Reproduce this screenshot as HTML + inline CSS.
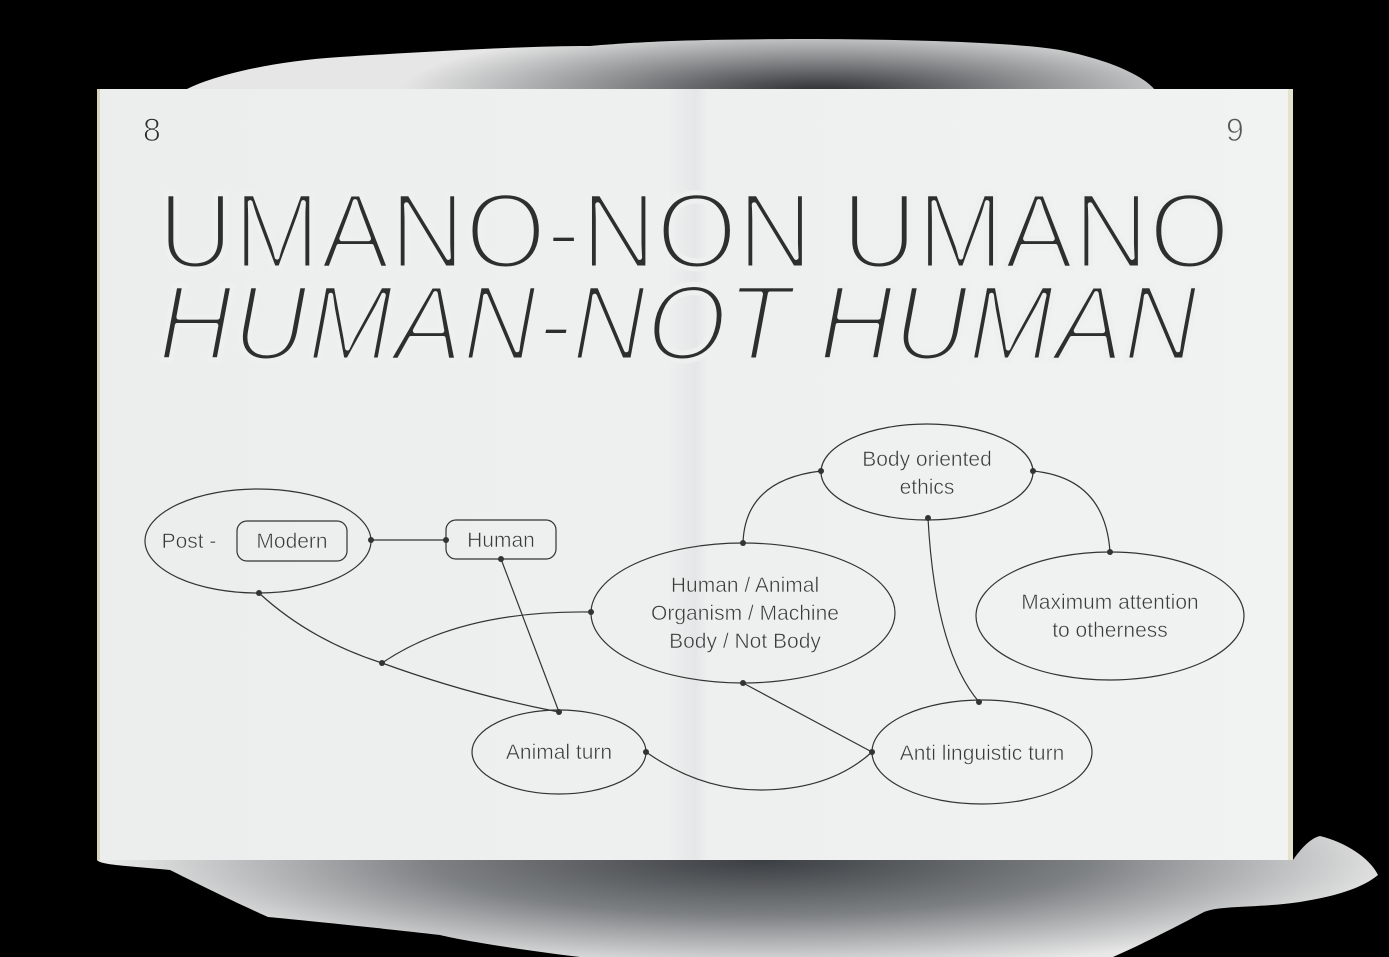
<!DOCTYPE html>
<html><head><meta charset="utf-8"><style>
html,body{margin:0;padding:0;background:#000;}
svg{display:block}
</style></head><body>
<svg width="1389" height="957" viewBox="0 0 1389 957" xmlns="http://www.w3.org/2000/svg">
<defs>
<radialGradient id="ts" cx="820" cy="92" r="420" gradientUnits="userSpaceOnUse" gradientTransform="translate(820 92) scale(1 0.16) translate(-820 -92)">
<stop offset="0" stop-color="#2a2d30"/><stop offset="0.5" stop-color="#8a8c8e"/><stop offset="1" stop-color="#e6e6e6"/>
</radialGradient>
<radialGradient id="bs" cx="760" cy="860" r="650" gradientUnits="userSpaceOnUse" gradientTransform="translate(760 860) scale(1 0.17) translate(-760 -860)">
<stop offset="0" stop-color="#3a3d41"/><stop offset="0.5" stop-color="#7d8083"/><stop offset="1" stop-color="#e8e8e8"/>
</radialGradient>
<linearGradient id="lp" x1="97" x2="697" y1="0" y2="0" gradientUnits="userSpaceOnUse">
<stop offset="0" stop-color="#eceeee"/><stop offset="0.95" stop-color="#eef0f0"/><stop offset="1" stop-color="#e4e6e7"/>
</linearGradient>
<linearGradient id="rp" x1="697" x2="1290" y1="0" y2="0" gradientUnits="userSpaceOnUse">
<stop offset="0" stop-color="#e6e8e9"/><stop offset="0.02" stop-color="#eef0f0"/><stop offset="1" stop-color="#f1f2f2"/>
</linearGradient>
</defs>
<rect width="1389" height="957" fill="#000"/>
<path d="M182 92 C200 80 260 62 340 57 C420 52 520 46 590 46 C640 42 680 39 820 39 C960 40 1030 45 1060 50 C1100 58 1140 72 1155 90 Z" fill="url(#ts)"/>
<path d="M97 860 L1293 860 C1300 850 1310 838 1320 836 C1345 842 1370 858 1378 875 C1360 890 1330 897 1300 902 C1260 908 1220 905 1204 912 C1170 930 1140 945 1113 957 L580 957 C520 950 460 940 440 935 C380 928 300 920 268 917 C230 900 190 880 170 870 C130 866 100 865 97 860 Z" fill="url(#bs)"/>
<rect x="97" y="89" width="600" height="771" fill="url(#lp)"/>
<rect x="697" y="89" width="593" height="771" fill="url(#rp)"/>
<rect x="97" y="89" width="3" height="771" fill="#d8d3bd"/>
<rect x="1288" y="89" width="5" height="771" fill="#e4e1cc"/>
<g font-family="Liberation Sans, sans-serif" fill="#2e2e2e" stroke-linejoin="round">
<text x="143" y="141" font-size="32" stroke="#eef0f0" stroke-width="1">8</text>
<text x="1226" y="141" font-size="32" fill="#555" stroke="#eef0f0" stroke-width="1">9</text>
<text x="158" y="268" font-size="108" textLength="1072" lengthAdjust="spacingAndGlyphs" stroke="#eef0f0" stroke-width="5">UMANO-NON UMANO</text>
<text x="158" y="360" font-size="108" font-style="italic" textLength="1040" lengthAdjust="spacingAndGlyphs" stroke="#eef0f0" stroke-width="5">HUMAN-NOT HUMAN</text>
</g>
<g fill="none" stroke="#333" stroke-width="1.2">
<ellipse cx="258" cy="541" rx="113" ry="52"/>
<rect x="237" y="521" width="110" height="40" rx="10"/>
<rect x="446" y="520" width="110" height="39" rx="10"/>
<ellipse cx="743" cy="613" rx="152" ry="70"/>
<ellipse cx="927" cy="472" rx="106" ry="48"/>
<ellipse cx="1110" cy="616" rx="134" ry="64"/>
<ellipse cx="559" cy="752" rx="87" ry="42"/>
<ellipse cx="982" cy="752" rx="110" ry="52"/>
<path d="M371 540 L446 540"/>
<path d="M501 559 L559 712"/>
<path d="M259 593 Q310 640 382 663 Q470 695 559 712"/>
<path d="M382 663 Q460 610 591 612"/>
<path d="M743 683 L872 752"/>
<path d="M646 752 Q700 790 760 790 Q830 790 872 752"/>
<path d="M743 543 Q745 480 821 471"/>
<path d="M1033 471 Q1105 478 1110 552"/>
<path d="M928 518 Q935 650 979 702"/>
</g>
<g fill="#333">
<circle cx="371" cy="540" r="3"/><circle cx="446" cy="540" r="3"/>
<circle cx="501" cy="559" r="3"/><circle cx="559" cy="712" r="3"/>
<circle cx="259" cy="593" r="3"/><circle cx="382" cy="663" r="3"/>
<circle cx="591" cy="612" r="3"/><circle cx="743" cy="683" r="3"/>
<circle cx="872" cy="752" r="3"/><circle cx="646" cy="752" r="3"/>
<circle cx="743" cy="543" r="3"/><circle cx="821" cy="471" r="3"/>
<circle cx="1033" cy="471" r="3"/><circle cx="1110" cy="552" r="3"/>
<circle cx="928" cy="518" r="3"/><circle cx="979" cy="702" r="3"/>
</g>
<g font-family="Liberation Sans, sans-serif" font-size="21" fill="#3a3a3a" text-anchor="middle" stroke="#eef0f0" stroke-width="0.5" stroke-linejoin="round">
<text x="189" y="548">Post -</text>
<text x="292" y="548">Modern</text>
<text x="501" y="547">Human</text>
<text x="745" y="592">Human / Animal</text>
<text x="745" y="620">Organism / Machine</text>
<text x="745" y="648">Body / Not Body</text>
<text x="927" y="466">Body oriented</text>
<text x="927" y="494">ethics</text>
<text x="1110" y="609">Maximum attention</text>
<text x="1110" y="637">to otherness</text>
<text x="559" y="759">Animal turn</text>
<text x="982" y="760">Anti linguistic turn</text>
</g>
</svg>
</body></html>
